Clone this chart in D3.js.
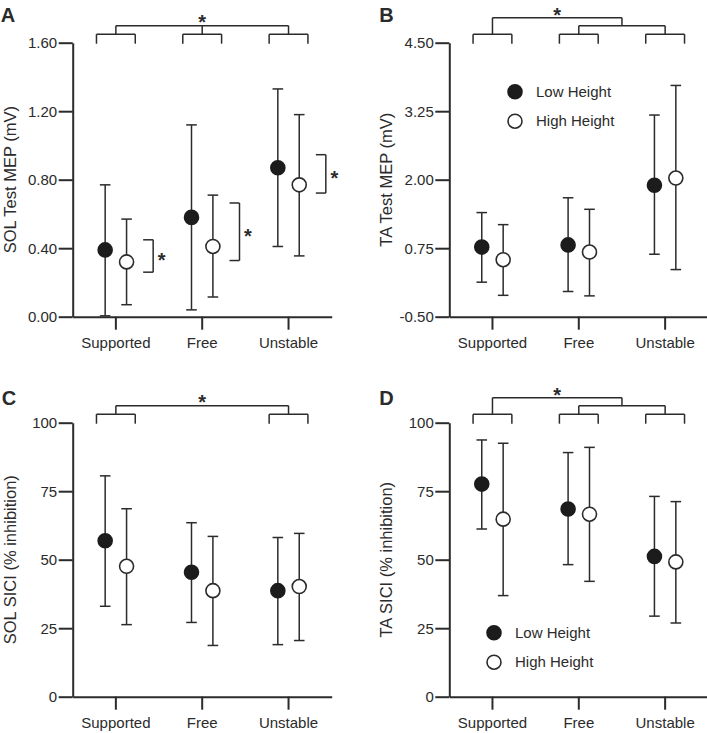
<!DOCTYPE html>
<html>
<head>
<meta charset="utf-8">
<script src="https://cdn.jsdelivr.net/npm/d3@7"></script>
<style>
  body { margin: 0; background: #fff; }
  text { font-family: Arial, "Liberation Sans", Helvetica, sans-serif; fill: #2b2b2b; }
</style>
</head>
<body>
<svg width="707" height="733"></svg>
<script>
const categories = ["Supported", "Free", "Unstable"];

// A: SOL test MEP (mV) - mean, upper and lower end of error bar
const solMepLow = [0.39, 0.58, 0.87],
    solMepLowHi = [0.77, 1.12, 1.33],
    solMepLowLo = [0.005, 0.04, 0.41];
const solMepHigh = [0.32, 0.41, 0.77],
    solMepHighHi = [0.57, 0.71, 1.18],
    solMepHighLo = [0.07, 0.115, 0.355];
// low vs high height brackets in panel A (value range covered)
const solMepSide = [[0.26, 0.449], [0.328, 0.664], [0.722, 0.946]];

// B: TA test MEP (mV)
const taMepLow = [0.77, 0.81, 1.90],
    taMepLowHi = [1.40, 1.67, 3.18],
    taMepLowLo = [0.13, -0.04, 0.64];
const taMepHigh = [0.54, 0.68, 2.03],
    taMepHighHi = [1.18, 1.46, 3.72],
    taMepHighLo = [-0.11, -0.12, 0.36];

// C: SOL SICI (% inhibition)
const solSiciLow = [56.9, 45.4, 38.7],
    solSiciLowHi = [80.6, 63.5, 58.1],
    solSiciLowLo = [33.0, 27.1, 19.0];
const solSiciHigh = [47.6, 38.7, 40.2],
    solSiciHighHi = [68.6, 58.5, 59.6],
    solSiciHighLo = [26.3, 18.7, 20.5];

// D: TA SICI (% inhibition)
const taSiciLow = [77.6, 68.5, 51.2],
    taSiciLowHi = [93.7, 89.1, 73.1],
    taSiciLowLo = [61.2, 48.2, 29.4];
const taSiciHigh = [64.8, 66.6, 49.2],
    taSiciHighHi = [92.5, 91.0, 71.2],
    taSiciHighLo = [36.9, 42.1, 26.9];

const mepTicks = [0, 0.4, 0.8, 1.2, 1.6],
    mepTickLabels = ["0.00", "0.40", "0.80", "1.20", "1.60"];
const taMepTicks = [-0.5, 0.75, 2, 3.25, 4.5],
    taMepTickLabels = ["-0.50", "0.75", "2.00", "3.25", "4.50"];
const siciTicks = [0, 25, 50, 75, 100],
    siciTickLabels = ["0", "25", "50", "75", "100"];

const seriesNames = ["Low Height", "High Height"];

const W = 259, H = 274, ink = "#2b2b2b";
const svg = d3.select("svg");

const panels = [
  { id: "A", left: 72.7, top: 42.7, labelX: 0.7, labelY: 21.7,
    domain: [0, 1.6], ticks: mepTicks, tickLabels: mepTickLabels,
    title: "SOL Test MEP (mV)",
    low: [solMepLow, solMepLowHi, solMepLowLo], high: [solMepHigh, solMepHighHi, solMepHighLo],
    sig: "all", side: solMepSide },
  { id: "B", left: 449.3, top: 42.7, labelX: 379.3, labelY: 21.7,
    domain: [-0.5, 4.5], ticks: taMepTicks, tickLabels: taMepTickLabels,
    title: "TA Test MEP (mV)",
    low: [taMepLow, taMepLowHi, taMepLowLo], high: [taMepHigh, taMepHighHi, taMepHighLo],
    sig: "nested", legend: [65.7, 49] },
  { id: "C", left: 72.7, top: 422.7, labelX: 1.7, labelY: 405,
    domain: [0, 100], ticks: siciTicks, tickLabels: siciTickLabels,
    title: "SOL SICI (% inhibition)",
    low: [solSiciLow, solSiciLowHi, solSiciLowLo], high: [solSiciHigh, solSiciHighHi, solSiciHighLo],
    sig: "ends" },
  { id: "D", left: 449.3, top: 422.7, labelX: 379.3, labelY: 405,
    domain: [0, 100], ticks: siciTicks, tickLabels: siciTickLabels,
    title: "TA SICI (% inhibition)",
    low: [taSiciLow, taSiciLowHi, taSiciLowLo], high: [taSiciHigh, taSiciHighHi, taSiciHighLo],
    sig: "nested", legend: [44.7, 210] }
];

const line = (g, x1, y1, x2, y2, w) => g.append("line")
    .attr("x1", x1).attr("y1", y1).attr("x2", x2).attr("y2", y2)
    .attr("stroke", ink).attr("stroke-width", w || 1.5);

const star = (g, cx, cy) => g.append("text")
    .attr("x", cx).attr("y", cy + 12)
    .attr("text-anchor", "middle")
    .style("font-size", "20px").style("font-weight", "bold")
    .text("*");

function drawPanel(p) {
  svg.append("text")
      .attr("x", p.labelX).attr("y", p.labelY)
      .style("font-size", "20px").style("font-weight", "bold")
      .text(p.id);

  const g = svg.append("g").attr("transform", "translate(" + p.left + "," + p.top + ")");
  const x = d3.scaleBand().domain(categories).range([0, W]);
  const y = d3.scaleLinear().domain(p.domain).range([H, 0]);
  const cx = c => x(c) + x.bandwidth() / 2;

  // axes
  const yAxis = g.append("g")
      .call(d3.axisLeft(y).tickValues(p.ticks).tickFormat((d, i) => p.tickLabels[i])
        .tickSize(14).tickSizeOuter(0).tickPadding(1.5));
  const xAxis = g.append("g")
      .attr("transform", "translate(0," + H + ")")
      .call(d3.axisBottom(x).tickSize(13).tickSizeOuter(0).tickPadding(7.4));
  [yAxis, xAxis].forEach(a => {
    a.selectAll("path, line").attr("stroke", ink).attr("stroke-width", 2);
    a.selectAll("text").attr("fill", ink).style("font-size", "15px")
        .style("font-family", "Arial, 'Liberation Sans', sans-serif");
  });

  g.append("text")
      .attr("transform", "rotate(-90)")
      .attr("x", -H / 2).attr("y", -57)
      .attr("text-anchor", "middle")
      .style("font-size", "16.5px")
      .text(p.title);

  // error bars + points
  const rows = [];
  [p.low, p.high].forEach((s, k) => {
    categories.forEach((c, i) => rows.push({
      c: c, k: k, mean: s[0][i], hi: s[1][i], lo: s[2][i],
      x: cx(c) + (k === 0 ? -10.7 : 10.7)
    }));
  });

  const bars = g.selectAll(".err").data(rows).enter().append("g").attr("class", "err");
  bars.append("line")
      .attr("x1", d => d.x).attr("x2", d => d.x)
      .attr("y1", d => y(d.hi)).attr("y2", d => y(d.lo));
  bars.append("line")
      .attr("x1", d => d.x - 5.3).attr("x2", d => d.x + 5.3)
      .attr("y1", d => y(d.hi)).attr("y2", d => y(d.hi));
  bars.append("line")
      .attr("x1", d => d.x - 5.3).attr("x2", d => d.x + 5.3)
      .attr("y1", d => y(d.lo)).attr("y2", d => y(d.lo));
  bars.selectAll("line").attr("stroke", ink).attr("stroke-width", 1.5);

  g.selectAll(".pt").data(rows).enter().append("circle")
      .attr("class", "pt")
      .attr("cx", d => d.x).attr("cy", d => y(d.mean))
      .attr("r", 7)
      .attr("fill", d => d.k === 0 ? "#1c1c1c" : "#fff")
      .attr("stroke", d => d.k === 0 ? "#1c1c1c" : ink)
      .attr("stroke-width", 1.6);

  // low vs high brackets
  if (p.side) {
    p.side.forEach((r, i) => {
      const bx = cx(categories[i]) + 37.3;
      line(g, bx, y(r[1]), bx, y(r[0]));
      line(g, bx - 10, y(r[1]), bx, y(r[1]));
      line(g, bx - 10, y(r[0]), bx, y(r[0]));
      star(g, bx + 8.5, (y(r[0]) + y(r[1])) / 2 - 1);
    });
  }

  // condition brackets above the plot
  const legY = 1, l1 = -8.5, l2 = -17, l3 = -25;
  const groupBracket = i => {
    const c = cx(categories[i]);
    line(g, c - 19.4, l1, c + 19.4, l1);
    line(g, c - 19.4, l1, c - 19.4, legY);
    line(g, c + 19.4, l1, c + 19.4, legY);
  };
  const cs = categories.map(cx);
  if (p.sig === "all") {
    [0, 1, 2].forEach(groupBracket);
    line(g, cs[0], l2, cs[2], l2);
    cs.forEach(c => line(g, c, l2, c, l1));
    star(g, cs[1], l2 - 9);
  } else if (p.sig === "ends") {
    [0, 2].forEach(groupBracket);
    line(g, cs[0], l2, cs[2], l2);
    line(g, cs[0], l2, cs[0], l1);
    line(g, cs[2], l2, cs[2], l1);
    star(g, cs[1], l2 - 9);
  } else {
    [0, 1, 2].forEach(groupBracket);
    line(g, cs[1], l2, cs[2], l2);
    line(g, cs[1], l2, cs[1], l1);
    line(g, cs[2], l2, cs[2], l1);
    const mid = (cs[1] + cs[2]) / 2;
    line(g, cs[0], l3, mid, l3);
    line(g, cs[0], l3, cs[0], l1);
    line(g, mid, l3, mid, l2);
    star(g, (cs[0] + mid) / 2, l3 - 8);
  }

  // legend
  if (p.legend) {
    const lg = g.append("g").attr("transform", "translate(" + p.legend[0] + "," + p.legend[1] + ")");
    seriesNames.forEach((name, k) => {
      lg.append("circle")
          .attr("cx", 0).attr("cy", k * 29.5).attr("r", 7)
          .attr("fill", k === 0 ? "#1c1c1c" : "#fff")
          .attr("stroke", k === 0 ? "#1c1c1c" : ink).attr("stroke-width", 1.6);
      lg.append("text")
          .attr("x", 21).attr("y", k * 29.5).attr("dy", "0.35em")
          .style("font-size", "15px")
          .text(name);
    });
  }
}

panels.forEach(drawPanel);
</script>
</body>
</html>
